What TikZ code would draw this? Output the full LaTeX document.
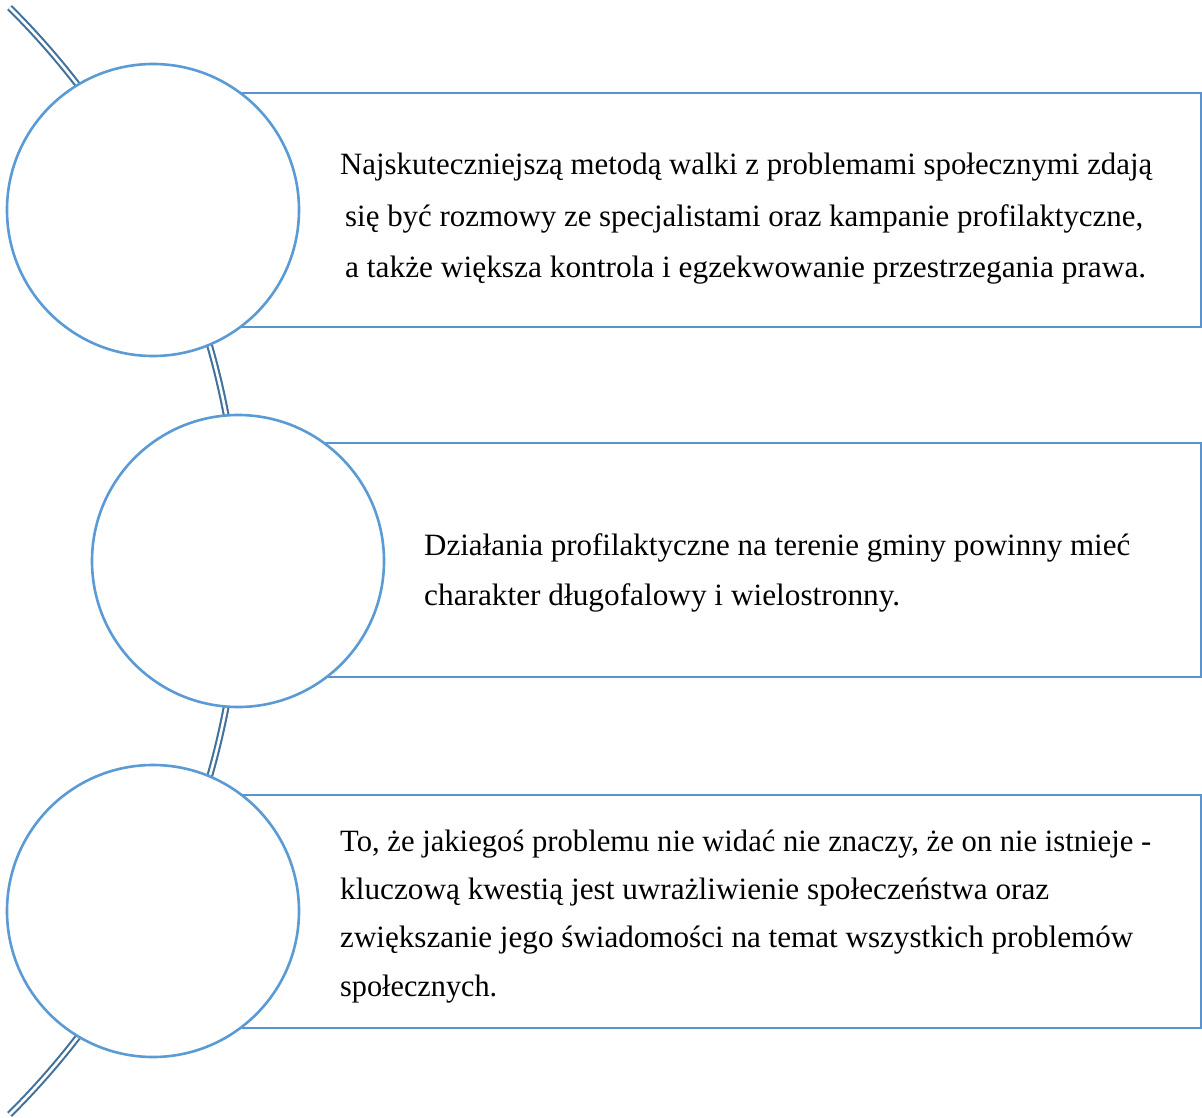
\documentclass[tikz,border=0pt]{standalone}
\usepackage{fontspec}
\setmainfont{Liberation Serif}
\usepackage{graphicx}
\definecolor{circblue}{HTML}{5B9BD5}
\definecolor{rectblue}{HTML}{5B93CF}
\definecolor{arcblue}{HTML}{41719C}
\newsavebox\fitlinebox
\newdimen\fitlinedim
\newcommand\fitline[2]{\sbox\fitlinebox{#2}\fitlinedim=\wd\fitlinebox\pgfmathsetmacro\fitfac{#1/\the\fitlinedim}\scalebox{\fitfac}[1]{\usebox\fitlinebox}}
\begin{document}
\begin{tikzpicture}[x=1pt,y=-1pt,
  circ/.style={circle,draw=circblue,line width=2.6pt,fill=white,minimum size=292pt,inner sep=0pt},
  panel/.style={draw=rectblue,line width=2.2pt,fill=white},
  txt/.style={anchor=base west,inner sep=0pt,font=\fontsize{31}{37}\selectfont,text=black},
  arcline/.style={draw=arcblue,line width=2.1pt,double=white,double distance=2.6pt}]
\useasboundingbox (0,0) rectangle (1202,1118);
% big background arc
\coordinate (arcc) at (-540,561);
\draw[arcline] (arcc) ++(45.2:780) arc[start angle=45.2,end angle=-45.2,radius=780];
% panels
\draw[panel] (153,93) rectangle (1201,327);
\draw[panel] (238,443) rectangle (1201,677);
\draw[panel] (153,795) rectangle (1201,1028);
% circles
\node[circ] (c1) at (153,210) {};
\node[circ] (c2) at (238,561) {};
\node[circ] (c3) at (153,911) {};
% texts
\node[txt] (t1a) at (340,175) {\fitline{812}{Najskuteczniejszą metodą walki z problemami społecznymi zdają}};
\node[txt] (t1b) at (345,226) {\fitline{798}{się być rozmowy ze specjalistami oraz kampanie profilaktyczne,}};
\node[txt] (t1c) at (345,277) {\fitline{801}{a także większa kontrola i egzekwowanie przestrzegania prawa.}};
\node[txt] (t2a) at (424,555) {\fitline{706}{Działania profilaktyczne na terenie gminy powinny mieć}};
\node[txt] (t2b) at (424,605) {\fitline{476}{charakter długofalowy i wielostronny.}};
\node[txt] (t3a) at (340,851) {\fitline{811}{To, że jakiegoś problemu nie widać nie znaczy, że on nie istnieje -}};
\node[txt] (t3b) at (340,899) {\fitline{709}{kluczową kwestią jest uwrażliwienie społeczeństwa oraz}};
\node[txt] (t3c) at (340,947) {\fitline{793}{zwiększanie jego świadomości na temat wszystkich problemów}};
\node[txt] (t3d) at (340,996) {\fitline{157}{społecznych.}};
\end{tikzpicture}
\end{document}
